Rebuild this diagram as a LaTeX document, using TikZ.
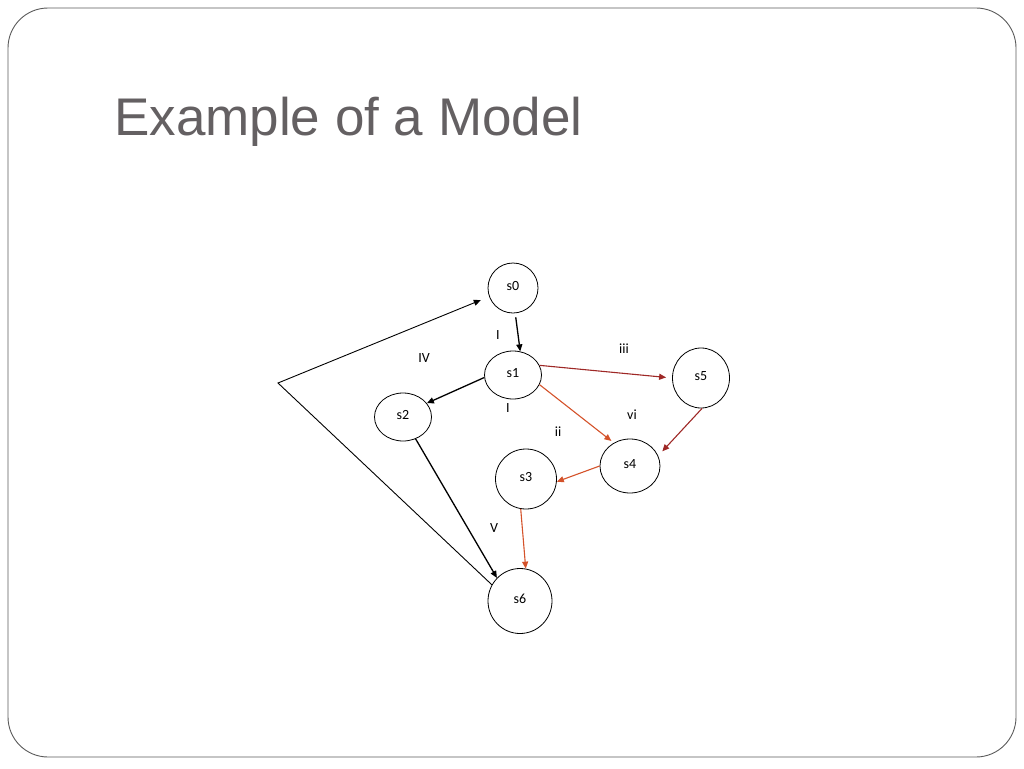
\documentclass[tikz,border=0pt]{standalone}
\usepackage{fontspec}
\setmainfont{Carlito}
\newfontfamily\titlefont{Liberation Sans}
\usepackage{tikz}
\usetikzlibrary{positioning,arrows.meta,calc,shapes.geometric}
\usepackage{xcolor}
\definecolor{framegray}{RGB}{90,90,90}
\definecolor{titlegray}{RGB}{100,96,98}
\definecolor{darkred}{RGB}{158,40,38}
\definecolor{rust}{RGB}{212,82,42}

\begin{document}
\begin{tikzpicture}[x=1pt, y=-1pt,
  state/.style={draw=black, line width=0.8pt, ellipse, inner sep=0pt,
    text height=10pt, text depth=6pt, font=\fontsize{14}{16}\selectfont},
  tag/.style={font=\fontsize{14}{16}\selectfont, inner sep=1pt},
  blackedge/.style={draw=black, line width=1.3pt, -{Triangle[length=7pt,width=6pt]}},
  rededge/.style={draw=darkred, line width=1.1pt, -{Triangle[length=7pt,width=6pt]}},
  rustedge/.style={draw=rust, line width=1.1pt, -{Triangle[length=7pt,width=6pt]}}
]
\useasboundingbox (0,0) rectangle (1024,768);
\draw[framegray, line width=0.9pt, rounded corners=40pt] (8,8) rectangle (1016,757);
\node[anchor=base west, inner sep=0pt, text=titlegray, font=\titlefont\fontsize{53}{60}\selectfont] (title) at (114,135) {Example of a Model};

% states
\node[state, minimum width=50pt, minimum height=50pt] (s0) at (513,288) {s0};
\node[state, minimum width=57pt, minimum height=48pt] (s1) at (513,375) {s1};
\node[state, minimum width=57pt, minimum height=48pt] (s2) at (403,417) {s2};
\node[state, minimum width=61pt, minimum height=60pt] (s3) at (526,479) {s3};
\node[state, minimum width=60pt, minimum height=54pt] (s4) at (630,466) {s4};
\node[state, minimum width=57pt, minimum height=60pt] (s5) at (701,378) {s5};
\node[state, minimum width=64pt, minimum height=65pt] (s6) at (520,601) {s6};

% labels
\node[tag] (l01) at (498,335) {I};
\node[tag] (l12) at (508,408) {I};
\node[tag] (lIV) at (424,358) {IV};
\node[tag] (l15) at (624,349) {iii};
\node[tag] (l54) at (632,415) {vi};
\node[tag] (l14) at (558,432) {ii};
\node[tag] (l36) at (494,528) {V};

% transitions
\draw[blackedge, shorten <=4pt] (s0.-85) -- (s1.73);
\draw[blackedge] (s1.185) -- (s2.30);
\draw[blackedge] (s2.-60) -- (s6.135);
\draw[rededge, shorten >=6pt] (s1.20) -- (s5.180);
\draw[rededge, shorten >=6pt] (s5.-88) -- (s4.20);
\draw[rustedge, shorten >=3pt] (s1.-20) -- (s4.125);
\draw[rustedge] (s4.180) -- (s3.-5);
\draw[rustedge] (s3.-100) -- (s6.80);

% loop back
\coordinate (corner) at (278,383);
\draw[black, line width=0.9pt, -{Triangle[length=7pt,width=6pt]}, shorten >=9pt] (s6.150) -- (corner) -- (s0.200);
\end{tikzpicture}
\end{document}
